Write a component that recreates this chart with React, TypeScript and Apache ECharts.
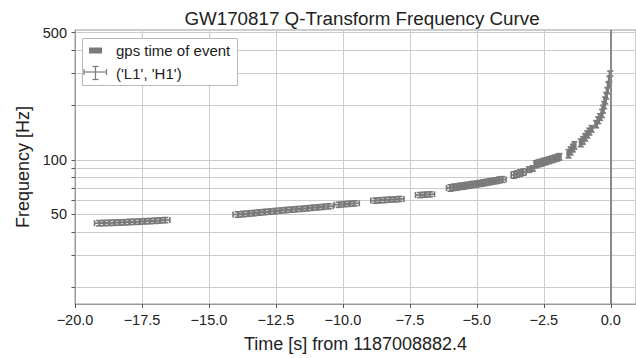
import React, { useEffect, useRef } from 'react';
import * as echarts from 'echarts';

const titleText = 'GW170817 Q-Transform Frequency Curve';
const xName = 'Time [s] from 1187008882.4';
const yName = 'Frequency [Hz]';
const legendNames = ['gps time of event', "('L1', 'H1')"];

const xMin = -20;
const xMax = 0.94;
const xStep = 2.5;
const yMin = 16.1;
const yMax = 517;
const yGridValues = [20, 30, 40, 50, 60, 70, 80, 90, 100, 200, 300, 400, 500];
const yLabelValues = [50, 100, 500];
const eventTimes = [0];

const times = [
  -19.10, -18.91, -18.72, -18.53, -18.34, -18.15, -17.96, -17.77, -17.58, -17.39, -17.20, -17.01, -16.82, -16.63,
  -13.93, -13.73, -13.53, -13.33, -13.13, -12.93, -12.73, -12.53, -12.33, -12.13, -11.93, -11.73, -11.53, -11.33, -11.13, -10.93, -10.73, -10.53,
  -10.15, -9.95, -9.75, -9.56,
  -8.79, -8.61, -8.43, -8.25, -8.07, -7.89,
  -7.12, -6.93, -6.75,
  -5.98, -5.86, -5.74, -5.62, -5.50, -5.38, -5.26, -5.14, -5.02, -4.90, -4.78, -4.66, -4.54, -4.42, -4.30, -4.18, -4.06,
  -3.62, -3.50, -3.38, -3.26,
  -3.05, -2.92,
  -2.80, -2.70, -2.60, -2.50, -2.40, -2.30, -2.20, -2.10, -2.00, -1.92,
  -1.58, -1.50, -1.42, -1.36,
  -1.12, -1.04, -0.96, -0.88, -0.80, -0.72,
  -0.55, -0.47, -0.40,
  -0.33, -0.29, -0.25, -0.21, -0.17, -0.13, -0.09, -0.05, -0.02,
];
const freqs = [
  44.8, 44.9, 45.0, 45.1, 45.2, 45.3, 45.5, 45.6, 45.7, 45.9, 46.0, 46.2, 46.4, 46.6,
  50.0, 50.3, 50.6, 50.9, 51.3, 51.6, 51.9, 52.2, 52.6, 52.9, 53.2, 53.5, 53.8, 54.1, 54.5, 54.8, 55.1, 55.5,
  56.6, 57.0, 57.3, 57.6,
  59.6, 59.9, 60.1, 60.4, 60.6, 60.9,
  64.0, 64.3, 64.6,
  70.0, 70.6, 70.9, 71.5, 71.7, 72.3, 72.6, 73.2, 73.5, 74.1, 74.5, 75.1, 75.6, 76.2, 76.7, 77.4, 77.9,
  82.5, 83.5, 84.6, 85.6,
  88.3, 89.5,
  94.5, 95.6, 96.5, 97.6, 98.5, 99.6, 100.6, 101.7, 102.7, 103.8,
  108, 112, 116, 120,
  124, 128, 133, 138, 143, 148,
  157, 165, 172,
  180, 190, 200, 212, 225, 240, 258, 278, 298,
];
const timeErrs = [
  0.17, 0.17, 0.17, 0.17, 0.17, 0.17, 0.17, 0.17, 0.17, 0.17, 0.17, 0.17, 0.17, 0.17,
  0.17, 0.17, 0.17, 0.17, 0.17, 0.17, 0.17, 0.17, 0.17, 0.17, 0.17, 0.17, 0.17, 0.17, 0.17, 0.17, 0.17, 0.17,
  0.17, 0.17, 0.17, 0.17,
  0.17, 0.17, 0.17, 0.17, 0.17, 0.17,
  0.17, 0.17, 0.17,
  0.15, 0.15, 0.15, 0.15, 0.15, 0.15, 0.15, 0.15, 0.15, 0.15, 0.15, 0.15, 0.15, 0.15, 0.15, 0.15, 0.15,
  0.10, 0.10, 0.10, 0.10,
  0.07, 0.07,
  0.06, 0.06, 0.06, 0.06, 0.06, 0.06, 0.06, 0.06, 0.06, 0.06,
  0.05, 0.05, 0.05, 0.05,
  0.045, 0.045, 0.045, 0.045, 0.045, 0.045,
  0.04, 0.04, 0.04,
  0.03, 0.03, 0.03, 0.03, 0.03, 0.03, 0.03, 0.03, 0.03,
];
const freqErrs = [
  1.5, 1.5, 1.5, 1.5, 1.5, 1.5, 1.5, 1.5, 1.5, 1.5, 1.5, 1.5, 1.5, 1.5,
  1.7, 1.7, 1.7, 1.7, 1.7, 1.7, 1.7, 1.7, 1.7, 1.7, 1.7, 1.7, 1.7, 1.7, 1.7, 1.7, 1.7, 1.7,
  1.8, 1.8, 1.8, 1.8,
  1.9, 1.9, 1.9, 1.9, 1.9, 1.9,
  2.0, 2.0, 2.0,
  2.8, 2.8, 2.8, 2.8, 2.8, 2.8, 2.8, 2.8, 2.8, 2.8, 2.8, 2.8, 2.8, 2.8, 2.8, 2.8, 2.8,
  3.4, 3.4, 3.4, 3.4,
  3.0, 3.0,
  4.2, 4.2, 4.2, 4.2, 4.2, 4.2, 4.2, 4.2, 4.2, 4.2,
  5.5, 5.5, 5.5, 5.5,
  6, 6, 6, 6, 6, 6,
  7, 7, 7,
  9, 9, 9, 9, 9, 9, 9, 9, 9,
];

const FONT = '"Liberation Sans", Arial, sans-serif';
const TEXT = '#222222';
const MARK = '#7a7a7a';
const GRIDC = '#cccccc';
const AXISC = '#9a9a9a';
const LZ = 200;

function fmtX(v: number): string {
  if (Math.abs(v / xStep - Math.round(v / xStep)) > 1e-6) return '';
  return (v < 0 ? '\u2212' : '') + Math.abs(v).toFixed(1);
}

export default function App() {
  const ref = useRef<HTMLDivElement>(null);
  useEffect(() => {
    if (!ref.current) return;
    const chart = echarts.init(ref.current, null, { renderer: 'svg' });
    const data = times.map((t, i) => [t, freqs[i], timeErrs[i], freqErrs[i]]);
    const cap = 3;
    const lineStyle = { stroke: MARK, lineWidth: 1.7 };
    const mk = (x1: number, y1: number, x2: number, y2: number) => ({
      type: 'line',
      shape: { x1, y1, x2, y2 },
      style: lineStyle,
    });
    const lg = (x1: number, y1: number, x2: number, y2: number) => ({
      type: 'line',
      z: LZ,
      zlevel: 1,
      silent: true,
      shape: { x1: 82 + x1, y1: 38 + y1, x2: 82 + x2, y2: 38 + y2 },
      style: { stroke: MARK, lineWidth: 1.2 },
    });
    chart.setOption({
      animation: false,
      backgroundColor: '#ffffff',
      title: {
        text: titleText,
        left: 357,
        top: 4,
        textAlign: 'center',
        textStyle: { fontFamily: FONT, fontSize: 18.8, fontWeight: 'normal', color: TEXT },
      },
      grid: {
        left: 75,
        top: 30,
        right: -3,
        bottom: 45,
        show: true,
        borderColor: AXISC,
        borderWidth: 1,
        backgroundColor: '#ffffff',
      },
      xAxis: {
        type: 'value',
        min: xMin,
        max: xMax,
        interval: xStep,
        name: xName,
        nameLocation: 'middle',
        nameGap: 31,
        nameTextStyle: { fontFamily: FONT, fontSize: 18, color: TEXT },
        axisLine: { show: true, onZero: false, lineStyle: { color: AXISC, width: 1 } },
        axisTick: { show: true, length: 4, lineStyle: { color: '#555' } },
        axisLabel: {
          fontFamily: FONT,
          fontSize: 14.5,
          color: TEXT,
          margin: 8,
          showMaxLabel: false,
          formatter: (v: number) => fmtX(v),
        },
        splitLine: { show: true, lineStyle: { color: GRIDC, width: 1 } },
      },
      yAxis: {
        type: 'log',
        logBase: 10,
        min: yMin,
        max: yMax,
        name: yName,
        nameLocation: 'middle',
        nameGap: 41,
        nameTextStyle: { fontFamily: FONT, fontSize: 18, color: TEXT },
        axisLine: { show: true, onZero: false, lineStyle: { color: AXISC, width: 1 } },
        axisTick: { show: true, length: 3.5, customValues: yGridValues, lineStyle: { color: '#555' } },
        axisLabel: {
          fontFamily: FONT,
          fontSize: 14.5,
          color: TEXT,
          margin: 8,
          customValues: yLabelValues,
          formatter: (v: number) => String(Math.round(v)),
        },
        splitLine: { show: true, lineStyle: { color: GRIDC, width: 1 } },
      },
      series: [
        {
          name: legendNames[0],
          type: 'line',
          data: [],
          markLine: {
            silent: true,
            symbol: ['none', 'none'],
            label: { show: false },
            lineStyle: { color: '#8a8a8a', width: 2, type: 'solid' },
            data: eventTimes.map((t) => ({ xAxis: t })),
          },
        },
        {
          name: legendNames[1],
          type: 'custom',
          data,
          encode: { x: 0, y: 1 },
          clip: true,
          renderItem: (params: any, api: any) => {
            const t = api.value(0);
            const f = api.value(1);
            const dt = api.value(2);
            const df = api.value(3);
            const pL = api.coord([t - dt, f]);
            const pR = api.coord([t + dt, f]);
            const pB = api.coord([t, f - df]);
            const pT = api.coord([t, f + df]);
            return {
              type: 'group',
              children: [
                mk(pL[0], pL[1], pR[0], pR[1]),
                mk(pL[0], pL[1] - cap, pL[0], pL[1] + cap),
                mk(pR[0], pR[1] - cap, pR[0], pR[1] + cap),
                mk(pB[0], pB[1], pT[0], pT[1]),
                mk(pT[0] - cap, pT[1], pT[0] + cap, pT[1]),
                mk(pB[0] - cap, pB[1], pB[0] + cap, pB[1]),
              ],
            };
          },
        },
      ],
      graphic: {
        elements: [
          {
            type: 'rect',
            z: LZ - 1,
            zlevel: 1,
            silent: true,
            shape: { x: 82.5, y: 38.5, width: 155, height: 47 },
            style: { fill: '#ffffff', stroke: '#b8b8b8', lineWidth: 1 },
          },
          {
            type: 'rect',
            z: LZ,
            zlevel: 1,
            silent: true,
            shape: { x: 89, y: 47.5, width: 13, height: 6 },
            style: { fill: MARK },
          },
          {
            type: 'text',
            z: LZ,
            zlevel: 1,
            silent: true,
            x: 116,
            y: 50.5,
            style: { text: legendNames[0], fontFamily: FONT, fontSize: 15, fill: TEXT, verticalAlign: 'middle' },
          },
          lg(2, 34, 24.5, 34),
          lg(2, 31, 2, 37),
          lg(24.5, 31, 24.5, 37),
          lg(13.5, 28.5, 13.5, 41.5),
          lg(10.5, 28.5, 16.5, 28.5),
          lg(10.5, 41.5, 16.5, 41.5),
          {
            type: 'text',
            z: LZ,
            zlevel: 1,
            silent: true,
            x: 116,
            y: 73,
            style: { text: legendNames[1], fontFamily: FONT, fontSize: 15, fill: TEXT, verticalAlign: 'middle' },
          },
        ],
      },
    });
    return () => chart.dispose();
  }, []);
  return (
    <div
      ref={ref}
      style={{ position: 'fixed', left: 0, top: 0, width: 636, height: 358, background: '#fff' }}
    />
  );
}
